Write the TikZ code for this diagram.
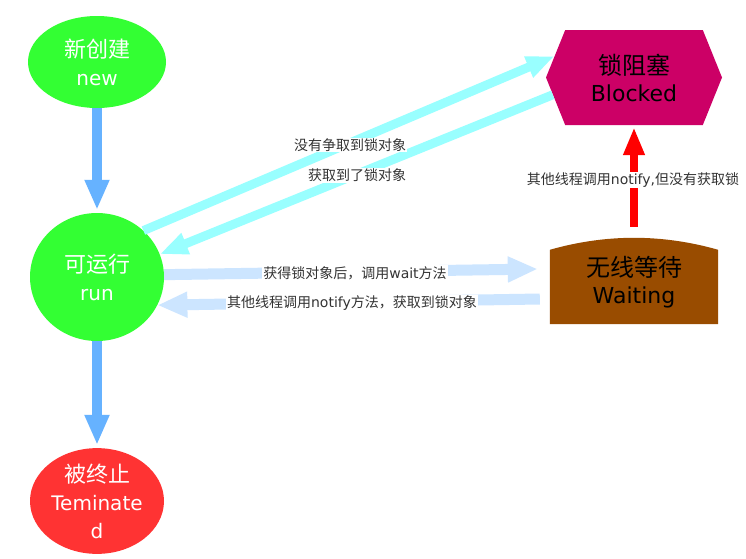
\documentclass[tikz,border=0pt]{standalone}
\usepackage{fontspec}
\setmainfont{DejaVu Sans}
\newfontfamily\cjk{Noto Sans CJK SC}
\usetikzlibrary{shapes.geometric,shapes.symbols,arrows.meta,calc}
\definecolor{ngreen}{HTML}{33FF33}
\definecolor{nred}{HTML}{FF3333}
\definecolor{bmag}{HTML}{CC0066}
\definecolor{wbrown}{HTML}{994C00}
\definecolor{acyan}{HTML}{99FFFF}
\definecolor{alblue}{HTML}{CCE5FF}
\definecolor{ablue}{HTML}{66B2FF}
\definecolor{ared}{HTML}{FF0000}
\definecolor{ltext}{HTML}{333333}
\newcommand{\cjkA}{\cjk\fontsize{22}{28}\selectfont}
\newcommand{\cjkB}{\cjk\fontsize{24}{27}\selectfont}
\begin{document}
\begin{tikzpicture}[x=1pt,y=-1pt,
  stateell/.style={ellipse, inner sep=0pt, text=white, align=center,
    font=\fontsize{20}{28}\selectfont},
  bigtext/.style={align=center, text=black, font=\fontsize{22}{27}\selectfont},
  bluearrow/.style={draw=ablue, line width=10pt, -{Triangle[width=23pt,length=30pt]}},
  cyanarrow/.style={draw=acyan, line width=9pt, -{Triangle[width=21pt,length=28pt]}},
  lbarrow/.style={draw=alblue, line width=11pt, -{Triangle[width=24pt,length=30pt]}},
  redarrow/.style={draw=ared, line width=8pt, -{Triangle[width=20pt,length=28pt]}},
  lbl/.style={fill=white, text=ltext, inner sep=1pt, font=\fontsize{14}{16}\selectfont}]
\useasboundingbox (0,0) rectangle (746,558);
\fill[white] (0,0) rectangle (746,558);

% states
\node[stateell, fill=ngreen, minimum width=138pt, minimum height=92pt] (new) at (97,62)
  {{\cjkA 新创建}\\new};
\node[stateell, fill=ngreen, minimum width=134pt, minimum height=128pt] (run) at (97,277)
  {{\cjkA 可运行}\\run};
\node[stateell, fill=nred, minimum width=134pt, minimum height=102pt] (term) at (97,501)
  {{\cjkA 被终止}\\Teminate\\d};
\node[signal, signal to=west and east, signal pointer angle=136, fill=bmag,
  minimum width=176pt, minimum height=95pt, inner sep=0pt] (blocked) at (634,77.5) {};
\node[bigtext] (btext) at (634,78) {{\cjkB 锁阻塞}\\Blocked};

\node[minimum width=168pt, minimum height=74pt, inner sep=0pt] (waiting) at (634,287) {};
\fill[wbrown] (waiting.south west) -- (waiting.north west)
  .. controls +(56,-16) and +(-56,-16) .. (waiting.north east)
  -- (waiting.south east) -- cycle;
\node[bigtext] (wtext) at (634,282) {{\cjkB 无线等待}\\Waiting};

% connectors
\draw[bluearrow] (new.south) -- ($(run.north)+(0,-3)$);
\draw[bluearrow] (run.south) -- ($(term.north)+(0,-3)$);
\draw[cyanarrow] (run.45) -- (blocked.165);
\draw[cyanarrow] (blocked.192) -- (run.20);
\draw[lbarrow] (run.2) -- ($(waiting.west)+(-12,-18)$);
\draw[lbarrow] ($(waiting.west)+(-10,12)$) -- (run.335);
\draw[redarrow] ($(waiting.north)+(0,-23)$) -- ($(blocked.south)+(0,2)$);

% labels
\node[lbl] (l1) at (350,145) {\cjk 没有争取到锁对象};
\node[lbl] (l2) at (357,175) {\cjk 获取到了锁对象};
\node[lbl] (l3) at (355,273) {{\cjk 获得锁对象后，调用}wait{\cjk 方法}};
\node[lbl] (l4) at (352,303) {{\cjk 其他线程调用}notify{\cjk 方法，获取到锁对象}};
\node[lbl] (l5) at (633,180) {{\cjk 其他线程调用}notify,{\cjk 但没有获取锁}};
\end{tikzpicture}
\end{document}
